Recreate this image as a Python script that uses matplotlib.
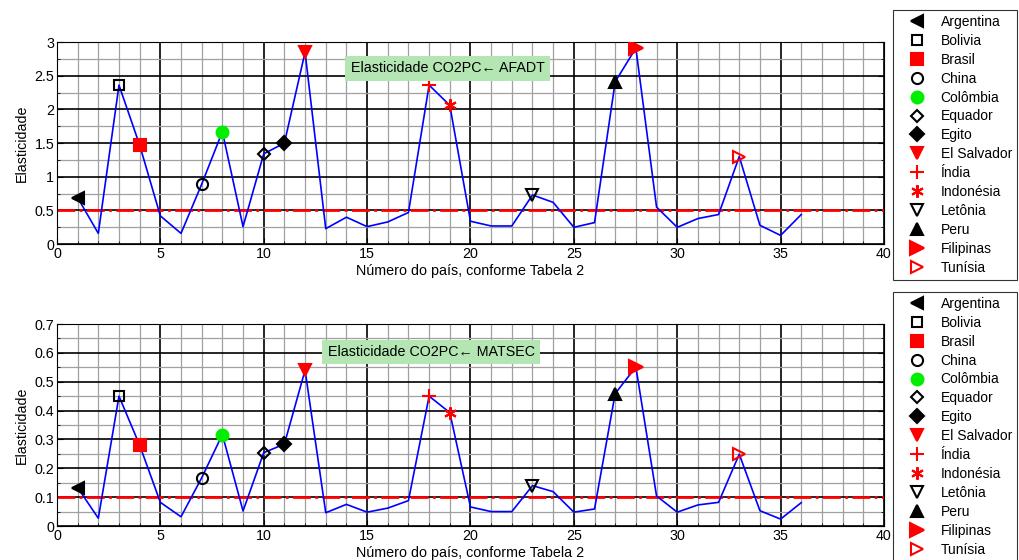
import numpy as np
import matplotlib
matplotlib.use('Agg')
import matplotlib.pyplot as plt
from matplotlib.ticker import MultipleLocator, FormatStrFormatter

plt.rcParams['font.family'] = ['Liberation Sans', 'DejaVu Sans']
plt.rcParams['font.size'] = 10

# ---------------------------------------------------------------------------
# Data
# ---------------------------------------------------------------------------
paises = list(range(1, 37))

elast_afadt = [0.69, 0.16, 2.36, 1.47, 0.42, 0.16, 0.89, 1.67, 0.26, 1.34,
               1.50, 2.85, 0.23, 0.40, 0.26, 0.33, 0.47, 2.36, 2.06, 0.34,
               0.27, 0.27, 0.73, 0.62, 0.25, 0.32, 2.41, 2.91, 0.55, 0.25,
               0.38, 0.44, 1.30, 0.28, 0.13, 0.44]

elast_matsec = [0.133, 0.027, 0.450, 0.280, 0.082, 0.032, 0.167, 0.317, 0.052, 0.254,
                0.284, 0.540, 0.046, 0.075, 0.048, 0.062, 0.088, 0.450, 0.393, 0.066,
                0.050, 0.050, 0.140, 0.119, 0.048, 0.059, 0.459, 0.551, 0.104, 0.048,
                0.073, 0.082, 0.249, 0.053, 0.024, 0.081]

limiar_afadt = 0.5
limiar_matsec = 0.1

nomes = ['Argentina', 'Bolivia', 'Brasil', 'China', 'Colômbia', 'Equador',
         'Egito', 'El Salvador', 'Índia', 'Indonésia', 'Letônia', 'Peru',
         'Filipinas', 'Tunísia']
numero_pais = [1, 3, 4, 7, 8, 10, 11, 12, 18, 19, 23, 27, 28, 33]

# marker, face colour, edge colour, size
estilos = [('<', 'black', 'black', 9), ('s', 'none', 'black', 7.5), ('s', 'red', 'red', 8),
           ('o', 'none', 'black', 8), ('o', '#00ee00', '#00ee00', 8.5),
           ('D', 'none', 'black', 6.5), ('D', 'black', 'black', 7),
           ('v', 'red', 'red', 9), ('+', 'red', 'red', 10),
           ((6, 2, 0), 'red', 'red', 9), ('v', 'none', 'black', 8.5),
           ('^', 'black', 'black', 9), ('>', 'red', 'red', 9.5), ('>', 'none', 'red', 9)]

fig = plt.figure(figsize=(10.19, 5.6), dpi=100)
ax1 = fig.add_axes([0.0559, 0.564, 0.8116, 0.361])
ax2 = fig.add_axes([0.0559, 0.0607, 0.8116, 0.3607])


def draw_panel(ax, valores, limiar, ytop, ymaj, ymin, texto, tpos, leg_box):
    ax.plot(paises, valores, color='#0000ff', lw=1.2, zorder=3)
    ax.plot([0, 40], [limiar, limiar], color='red', ls='-.', lw=2, zorder=2)
    handles = []
    for nome, n, (mk, fc, ec, sz) in zip(nomes, numero_pais, estilos):
        h, = ax.plot(paises[n - 1], valores[n - 1], ls='none', marker=mk,
                     markersize=sz, markerfacecolor=fc, markeredgecolor=ec,
                     markeredgewidth=1.5, label=nome, zorder=4)
        handles.append(h)
    ax.set_xlim(0, 40)
    ax.set_ylim(0, ytop)
    ax.xaxis.set_major_locator(MultipleLocator(5))
    ax.xaxis.set_minor_locator(MultipleLocator(1))
    ax.yaxis.set_major_locator(MultipleLocator(ymaj))
    ax.yaxis.set_minor_locator(MultipleLocator(ymin))
    ax.yaxis.set_major_formatter(FormatStrFormatter('%g'))
    ax.grid(which='major', color='black', lw=1.2, zorder=0)
    ax.grid(which='minor', color='#a0a0a0', lw=0.9, zorder=0)
    ax.set_axisbelow(True)
    ax.tick_params(which='both', direction='in', right=True, top=False,
                   labelsize=10.3, pad=2)
    ax.tick_params(which='major', length=4)
    ax.tick_params(which='minor', length=2)
    for s in ax.spines.values():
        s.set_linewidth(0.8)
    ax.set_xlabel('Número do país, conforme Tabela 2', fontsize=10.3, labelpad=2)
    ax.set_ylabel('Elasticidade', fontsize=10.3, labelpad=4)
    ax.text(tpos[0], tpos[1], texto, ha='center', va='center', fontsize=10.3,
            bbox=dict(boxstyle='square,pad=0.38', facecolor='#b3e6b3',
                      edgecolor='none'), zorder=5)
    leg = fig.legend(handles=handles, loc='upper left', bbox_to_anchor=leg_box,
                     frameon=True, fancybox=False, edgecolor='black',
                     fontsize=10, labelspacing=0.353, handlelength=2.75,
                     handletextpad=0.35, borderpad=0.35, borderaxespad=0)
    leg.get_frame().set_linewidth(0.8)


draw_panel(ax1, elast_afadt, limiar_afadt, 3, 0.5, 0.25,
           'Elasticidade CO2PC\u2190 AFADT', (18.9, 2.61), (0.876, 0.982))
draw_panel(ax2, elast_matsec, limiar_matsec, 0.7, 0.1, 0.05,
           'Elasticidade CO2PC\u2190 MATSEC', (18.1, 0.603), (0.876, 0.4786))

fig.savefig('out.png', dpi=100)
